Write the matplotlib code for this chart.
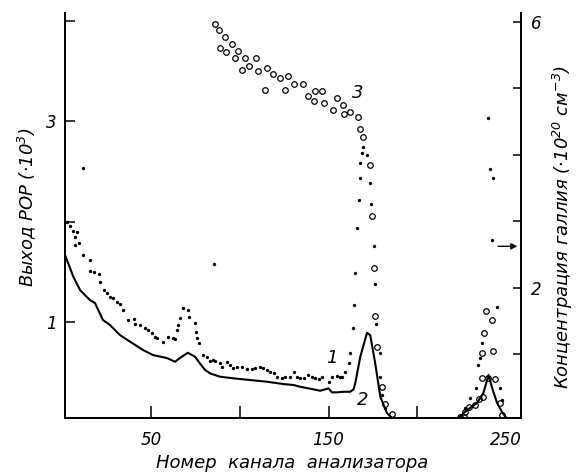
import matplotlib
matplotlib.use('Agg')
import matplotlib.pyplot as plt

# curve 2 (solid line), yield, left axis
ch_solid = [1.5, 6.2, 10.0, 15.6, 18.4, 22.9, 26.9, 32.5, 38.2, 45.5, 51.1, 59.0,
            63.5, 66.4, 70.7, 74.8, 77.5, 80.5, 83.3, 88.9, 96.4, 105.8, 115.3,
            124.6, 130.3, 134.0, 141.5, 145.3, 148.1, 150.0, 151.9, 154.7, 158.5,
            162.2, 164.1, 165.1, 167.9, 171.7, 173.5, 176.3, 179.2, 182.9, 185.8]
rop_solid = [1.665, 1.449, 1.316, 1.216, 1.186, 1.017, 0.967, 0.867, 0.801, 0.718,
             0.668, 0.638, 0.601, 0.641, 0.691, 0.651, 0.585, 0.518, 0.485, 0.452,
             0.436, 0.419, 0.402, 0.379, 0.369, 0.352, 0.326, 0.312, 0.326, 0.336,
             0.296, 0.296, 0.302, 0.302, 0.326, 0.389, 0.651, 0.890, 0.867, 0.588,
             0.252, 0.090, 0.040]
ch_solid2 = [223.2, 228.1, 233.7, 237.3, 240.2, 242.2, 245.0, 247.8, 250.2]
rop_solid2 = [0.04, 0.12, 0.19, 0.29, 0.47, 0.34, 0.19, 0.10, 0.04]

# curve 1 (dots), yield, left axis
ch_dots = [2.4, 4.3, 6.2, 7.1, 8.4, 9.6, 7.1, 11.8, 11.6, 15.7, 15.3, 18.0, 20.4,
           21.3, 23.2, 25.1, 27.0, 28.8, 30.7, 32.6, 34.4, 37.2, 40.1, 41.0, 43.8,
           46.6, 48.5, 50.4, 52.2, 53.2, 56.9, 59.7, 62.5, 63.5, 64.4, 65.3, 66.3,
           68.1, 70.9, 71.5, 74.7, 75.3, 75.7, 77.1, 79.4, 81.3, 83.1, 85.0, 85.7,
           86.1, 88.9, 89.9, 92.7, 94.6, 96.4, 98.3, 101.2, 104.0, 106.8, 108.7,
           111.5, 113.3, 115.3, 117.1, 119.0, 120.9, 123.7, 125.6, 128.4, 130.3,
           132.2, 134.0, 135.9, 138.7, 140.6, 142.5, 144.4, 146.3, 150.0, 151.9,
           154.7, 156.6, 157.6, 159.4, 161.3, 162.2, 163.8, 164.1, 165.1, 166.0,
           166.9, 167.9, 167.9, 168.8, 169.7, 171.7, 173.5, 173.9, 175.4, 176.3,
           176.9, 178.8, 179.2, 180.3, 182.0,
           227.0, 230.0, 233.3, 234.0, 235.6, 236.5, 239.7, 241.2, 242.7, 242.2,
           245.0, 246.4, 248.0]
rop_dots = [2.00, 1.96, 1.91, 1.85, 1.90, 1.79, 1.77, 2.53, 1.665, 1.615, 1.505,
            1.50, 1.48, 1.40, 1.316, 1.283, 1.243, 1.233, 1.199, 1.176, 1.117,
            1.017, 1.024, 0.974, 0.967, 0.934, 0.917, 0.884, 0.850, 0.834, 0.80,
            0.850, 0.834, 0.825, 0.917, 0.967, 1.034, 1.134, 1.117, 1.05, 0.984,
            0.90, 0.834, 0.79, 0.668, 0.651, 0.611, 0.618, 1.575,
            0.611, 0.585, 0.551, 0.60, 0.568, 0.535, 0.551, 0.551, 0.525, 0.525,
            0.535, 0.551, 0.535, 0.518, 0.502, 0.485, 0.452, 0.436, 0.452, 0.452,
            0.502, 0.452, 0.436, 0.436, 0.469, 0.452, 0.436, 0.426, 0.452, 0.402,
            0.452, 0.459, 0.452, 0.452, 0.50, 0.585, 0.685, 0.934, 1.167, 1.483,
            1.931, 2.213, 2.43, 2.585, 2.68, 2.745, 2.66, 2.386, 2.18, 1.755,
            1.376, 0.977, 0.685, 0.452, 0.27, 0.14,
            0.14, 0.24, 0.336, 0.568, 0.635, 0.79, 3.03, 2.52, 2.43, 1.82,
            1.15, 0.336, 0.22]

# curve 3 (circles), gallium concentration, right axis
ch_ga = [86.1, 88.0, 91.7, 95.5, 88.9, 92.3, 99.2, 97.4, 103.0, 109.2, 101.2, 105.4,
         110.5, 115.3, 118.6, 122.4, 126.9, 114.3, 125.6, 130.7, 135.6, 138.7,
         142.5, 146.3, 141.9, 147.7, 154.7, 158.1, 152.5, 158.9, 162.2, 166.6,
         167.9, 169.7, 173.5, 174.5, 175.4, 176.3, 177.6, 180.1, 182.0, 185.8,
         224.0, 226.1, 227.1, 229.0, 232.7, 234.6, 237.0, 236.5, 240.0, 244.0,
         236.5, 242.7, 237.5, 242.2, 238.9, 246.8, 247.8]
ga_conc = [5.97, 5.87, 5.77, 5.67, 5.61, 5.55, 5.56, 5.45, 5.45, 5.45, 5.28, 5.33,
           5.26, 5.31, 5.22, 5.15, 5.18, 4.98, 4.98, 5.07, 5.06, 4.89,
           4.96, 4.96, 4.81, 4.78, 4.85, 4.75, 4.67, 4.61, 4.64, 4.56,
           4.39, 4.26, 3.84, 3.08, 2.30, 1.57, 1.11, 0.51, 0.25, 0.10,
           0.05, 0.06, 0.13, 0.21, 0.23, 0.32, 0.36, 0.635, 0.635, 0.62,
           1.02, 1.05, 1.32, 1.52, 1.65, 0.26, 0.08]

x_ticks = [50, 100, 150, 200, 250]
x_labels = ['50', '', '150', '', '250']
left_ticks = [1, 2, 3, 4]
left_labels = ['1', '', '3', '']
right_ticks = [1, 2, 3, 4, 5, 6]
right_labels = ['', '2', '', '', '', '6']

plt.rcParams['font.family'] = ['DejaVu Sans']
plt.rcParams['font.style'] = 'italic'
plt.rcParams['mathtext.fontset'] = 'dejavusans'
plt.rcParams['mathtext.default'] = 'it'

fig = plt.figure(figsize=(5.79, 4.76), dpi=100)
ax = fig.add_axes([0.1123, 0.1218, 0.7876, 0.8508])
ax2 = ax.twinx()

ax.plot(ch_solid, rop_solid, color='black', lw=1.5)
ax.plot(ch_solid2, rop_solid2, color='black', lw=1.5)
ax.plot(ch_dots, rop_dots, ls='none', marker='o', ms=1.4, color='black')
ax2.plot(ch_ga, ga_conc, ls='none', marker='o', ms=4.0, mfc='none',
         mec='black', mew=0.9)

ax.set_xlim(1.5, 258.5)
ax.set_ylim(0.04, 4.08)
ax2.set_ylim(0.04, 6.13)

ax.set_xticks(x_ticks, x_labels)
ax.set_yticks(left_ticks, left_labels)
ax2.set_yticks(right_ticks, right_labels)
ax.xaxis.get_major_ticks()[-1].tick1line.set_visible(False)

ax.tick_params(axis='x', direction='in', length=9, width=1.1, pad=9, labelsize=12)
ax.tick_params(axis='y', direction='in', length=7, width=1.1, pad=6, labelsize=12)
ax2.tick_params(axis='y', direction='in', length=6, width=1.1, pad=7, labelsize=12)

for a in (ax, ax2):
    a.spines['top'].set_visible(False)
    for s in ('left', 'right', 'bottom'):
        a.spines[s].set_linewidth(1.3)

# curve numbers and arrow
ax.text(152.1, 0.64, '1', fontsize=13, ha='center', va='center')
ax.text(169.0, 0.22, '2', fontsize=13, ha='center', va='center')
ax.text(166.2, 3.28, '3', fontsize=13, ha='center', va='center')
ax.annotate('', xy=(258, 1.753), xytext=(244, 1.753),
            arrowprops=dict(arrowstyle='-|>', color='black', lw=1.0,
                            mutation_scale=9))

fig.text(0.504, 0.027, 'Номер  канала  анализатора', fontsize=13,
         ha='center', va='center')
fig.text(0.047, 0.565, 'Выход РОР $(\\cdot 10^3)$', fontsize=13, rotation=90,
         ha='center', va='center')
fig.text(0.972, 0.523, 'Концентрация галлия $(\\cdot 10^{20}$ см$^{-3})$',
         fontsize=13, rotation=90, ha='center', va='center')

fig.savefig('out.png', dpi=100)
